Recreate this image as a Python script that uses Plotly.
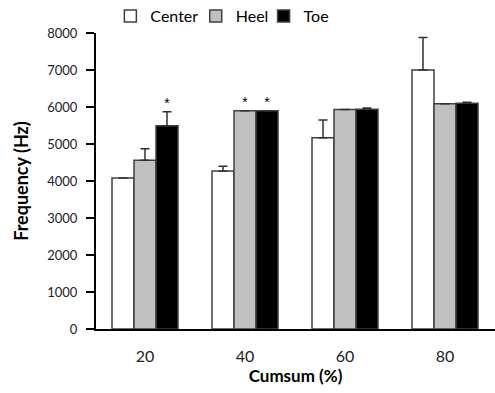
import plotly.graph_objects as go

categories = ["20", "40", "60", "80"]
series_names = ["Center", "Heel", "Toe"]
center = [4080, 4270, 5170, 7000]
heel = [4560, 5900, 5930, 6090]
toe = [5490, 5900, 5940, 6100]
center_err = [0, 130, 480, 880]
heel_err = [310, 0, 0, 0]
toe_err = [380, 0, 30, 30]
# significance markers: (series index, category index)
stars = [(2, 0), (1, 1), (2, 1)]

values = [center, heel, toe]
errors = [center_err, heel_err, toe_err]
fills = ["#ffffff", "#c0c0c0", "#000000"]

bar_w = 0.22
offsets = [-1.5 * bar_w, -0.5 * bar_w, 0.5 * bar_w]

FONT = "Lato, Open Sans, Liberation Sans"
legend_ids = ["legend", "legend2", "legend3"]
legend_x = [0.036, 0.25, 0.42]

fig = go.Figure()
xs = list(range(len(categories)))
for i, name in enumerate(series_names):
    fig.add_trace(go.Bar(
        x=xs, y=values[i], name=name, legend=legend_ids[i],
        width=bar_w, offset=offsets[i],
        marker=dict(color=fills[i], line=dict(color="#404040", width=1.5)),
        error_y=dict(type="data", symmetric=False, array=errors[i],
                     arrayminus=[0] * len(categories),
                     color="#303030", thickness=1.5, width=4.5),
    ))

sx = [xs[c] + offsets[s] + bar_w / 2 for s, c in stars]
sy = [values[s][c] + errors[s][c] for s, c in stars]
fig.add_trace(go.Scatter(
    x=sx, y=sy, mode="text", text=["*"] * len(stars),
    textposition="top center", showlegend=False,
    textfont=dict(size=14, color="#000000", family="Liberation Sans"),
    cliponaxis=False,
))

legend_style = dict(orientation="h", xanchor="left", y=1.057, yanchor="middle",
                    font=dict(size=16, color="#000000", family=FONT), itemwidth=30,
                    bgcolor="rgba(0,0,0,0)")

fig.update_layout(
    width=495, height=393,
    margin=dict(l=96, r=0, t=33, b=64, autoexpand=False),
    plot_bgcolor="white", paper_bgcolor="white",
    barmode="overlay",
    font=dict(family=FONT, size=12, color="#222222"),
    legend=dict(x=legend_x[0], **legend_style),
    legend2=dict(x=legend_x[1], **legend_style),
    legend3=dict(x=legend_x[2], **legend_style),
)
fig.update_xaxes(
    range=[-0.49, 3.5], tickvals=xs, ticktext=categories,
    showline=True, linecolor="#000000", linewidth=2, ticks="",
    showgrid=False, zeroline=False, ticklabelstandoff=12,
    tickfont=dict(size=16, color="#222222"),
    title=dict(text="<b>Cumsum (%)</b>", font=dict(size=17, color="#000000"), standoff=6),
)
fig.update_yaxes(
    range=[0, 8000], dtick=1000, tickformat="d",
    showline=True, linecolor="#000000", linewidth=2,
    ticks="outside", ticklen=8, tickwidth=1.5, tickcolor="#000000",
    showgrid=False, zeroline=False, ticklabelstandoff=6,
    tickfont=dict(size=13, color="#222222"),
    title=dict(text="<b>Frequency (Hz)</b>", font=dict(size=18, color="#000000"), standoff=14),
)

fig.write_html("out.html", config={"displayModeBar": False},
               post_script="document.body.style.margin='0';")
